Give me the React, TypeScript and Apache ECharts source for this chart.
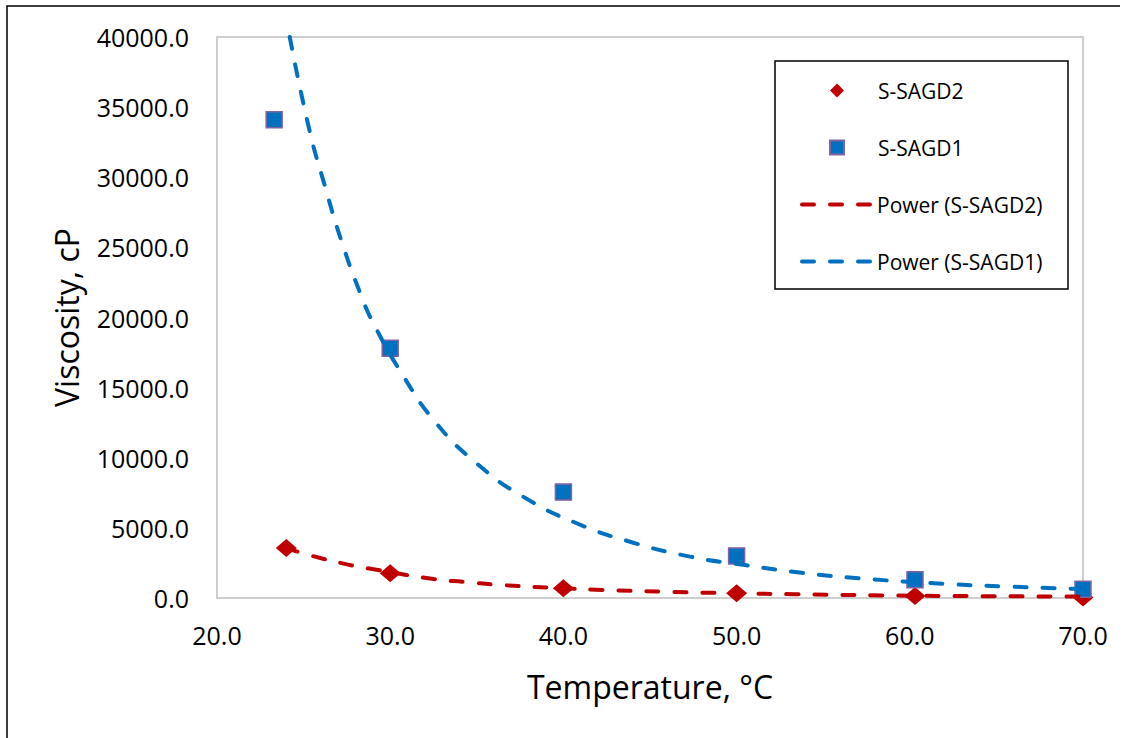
import React, { useEffect, useRef } from "react";
import * as echarts from "echarts";

const sagd1X = [23.3, 30.0, 40.0, 50.0, 60.3, 70.0];
const sagd1Y = [34100, 17800, 7550, 3000, 1300, 620];
const sagd2X = [24.0, 30.0, 40.0, 50.0, 60.3, 70.0];
const sagd2Y = [3560, 1760, 700, 330, 150, 40];

// Power trendlines, points
const trend1X = [24.2, 25.33, 26.24, 27.2, 28.35, 29.03, 30.66, 32.59, 34.99, 37.68, 40.77, 43.85, 47.31, 50.48, 53.76, 57.13, 62.13, 65.4, 70.0];
const trend1Y = [40000, 33400, 29330, 25400, 21480, 19590, 16020, 12570, 9600, 7220, 5330, 4010, 2950, 2350, 1800, 1400, 1000, 830, 640];
const trend2X = [24.0, 25.5, 27.5, 29.2, 32.5, 34.4, 36.3, 40.0, 42.7, 45.75, 50.0, 53.3, 60.2, 70.0];
const trend2Y = [3560, 3000, 2400, 2020, 1350, 1140, 935, 690, 560, 450, 335, 270, 165, 100];

const xTicks = { min: 20, max: 70, interval: 10 };
const yTicks = { min: 0, max: 40000, interval: 5000 };

const seriesNames = ["S-SAGD2", "S-SAGD1", "Power (S-SAGD2)", "Power (S-SAGD1)"];

const zip = (xs: number[], ys: number[]) => xs.map((x, i) => [x, ys[i]]);

const FONT = "Open Sans";

export default function App() {
  const ref = useRef<HTMLDivElement>(null);
  useEffect(() => {
    if (!ref.current) return;
    const chart = echarts.init(ref.current, null, { renderer: "svg" });
    const dash = {
      width: 4,
      type: [12, 16] as any,
      cap: "round" as const,
    };
    const legendText = { fontFamily: FONT, fontSize: 21, color: "#000" };
    chart.setOption({
      animation: false,
      backgroundColor: "#ffffff",
      textStyle: { fontFamily: FONT },
      grid: {
        left: 217,
        top: 37,
        right: 47,
        bottom: 140,
        show: true,
        borderColor: "#BFBFBF",
        borderWidth: 1.5,
        backgroundColor: "transparent",
      },
      graphic: [
        {
          type: "polyline",
          shape: { points: [[7, 738], [7, 6], [1120, 6]] },
          style: { stroke: "#000", lineWidth: 1.5, fill: "none" },
          silent: true,
        },
        {
          type: "rect",
          shape: { x: 775, y: 61, width: 293, height: 228 },
          style: { stroke: "#000", lineWidth: 1.5, fill: "none" },
          silent: true,
        },
      ],
      legend: [
        {
          orient: "vertical",
          left: 829,
          top: 80,
          padding: 0,
          itemWidth: 14,
          itemHeight: 14,
          itemGap: 36,
          data: [seriesNames[0], seriesNames[1]],
          textStyle: { ...legendText, padding: [0, 0, 0, 29] },
        },
        {
          orient: "vertical",
          left: 800,
          top: 194,
          padding: 0,
          itemWidth: 70,
          itemHeight: 14,
          itemGap: 36,
          data: [
            { name: seriesNames[2], itemStyle: { opacity: 0 } },
            { name: seriesNames[3], itemStyle: { opacity: 0 } },
          ],
          textStyle: legendText,
          lineStyle: { width: 4 },
        },
      ],
      xAxis: {
        type: "value",
        min: xTicks.min,
        max: xTicks.max,
        interval: xTicks.interval,
        axisLine: { show: false },
        axisTick: { show: false },
        splitLine: { show: false },
        axisLabel: {
          formatter: (v: number) => v.toFixed(1),
          fontSize: 25,
          fontFamily: FONT,
          color: "#000",
          margin: 24,
        },
        name: "Temperature, °C",
        nameLocation: "middle",
        nameGap: 72,
        nameTextStyle: { fontSize: 32, fontFamily: FONT, color: "#000" },
      },
      yAxis: {
        type: "value",
        min: yTicks.min,
        max: yTicks.max,
        interval: yTicks.interval,
        axisLine: { show: false },
        axisTick: { show: false },
        splitLine: { show: false },
        axisLabel: {
          formatter: (v: number) => v.toFixed(1),
          fontSize: 25,
          fontFamily: FONT,
          color: "#000",
          margin: 28,
        },
        name: "Viscosity, cP",
        nameLocation: "middle",
        nameGap: 135,
        nameRotate: 90,
        nameTextStyle: { fontSize: 32, fontFamily: FONT, color: "#000" },
      },
      series: [
        {
          name: seriesNames[0],
          type: "scatter",
          symbol: "diamond",
          symbolSize: [21, 18],
          itemStyle: { color: "#C00000", opacity: 1 },
          data: zip(sagd2X, sagd2Y),
          z: 2,
        },
        {
          name: seriesNames[1],
          type: "scatter",
          symbol: "rect",
          symbolSize: 16,
          itemStyle: { color: "#0070C0", borderColor: "#8064A2", borderWidth: 1.5, opacity: 1 },
          data: zip(sagd1X, sagd1Y),
          z: 2,
        },
        {
          name: seriesNames[2],
          type: "line",
          symbol: "none",
          showSymbol: false,
          smooth: true,
          color: "#C00000",
          lineStyle: { ...dash, color: "#C00000" },
          data: zip(trend2X, trend2Y),
          z: 3,
        },
        {
          name: seriesNames[3],
          type: "line",
          symbol: "none",
          showSymbol: false,
          smooth: true,
          color: "#0070C0",
          lineStyle: { ...dash, color: "#0070C0" },
          data: zip(trend1X, trend1Y),
          z: 3,
        },
      ],
    });
    return () => chart.dispose();
  }, []);
  return (
    <div
      ref={ref}
      style={{ position: "absolute", left: 0, top: 0, width: 1130, height: 738, background: "#fff" }}
    />
  );
}
